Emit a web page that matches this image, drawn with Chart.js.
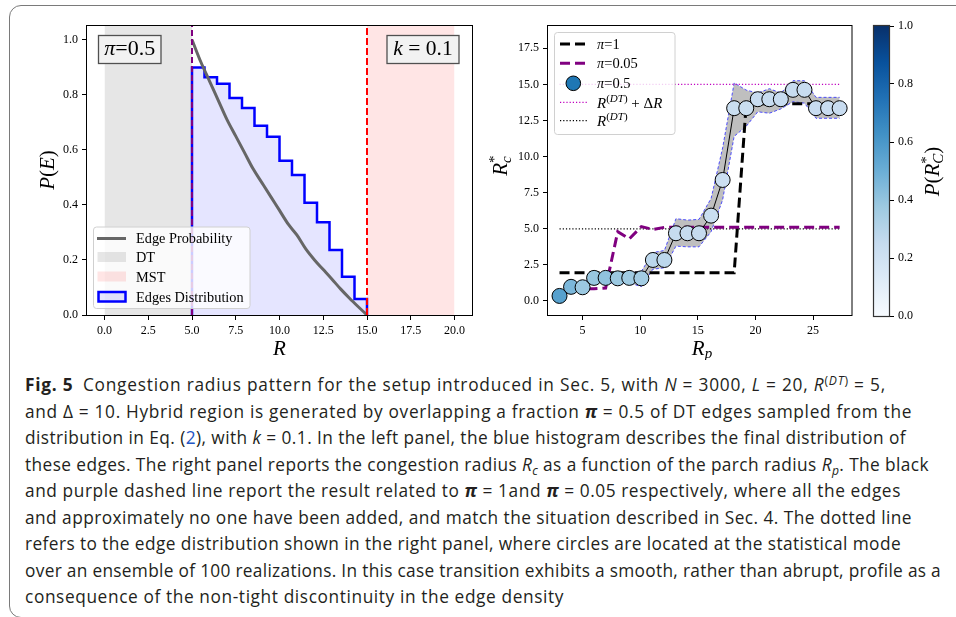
<!DOCTYPE html>
<html><head><meta charset="utf-8">
<script src="https://cdn.jsdelivr.net/npm/chart.js@4.4.1/dist/chart.umd.min.js"></script>
<style>
html,body{margin:0;padding:0;background:#fff;width:956px;height:617px;overflow:hidden;position:relative;}
#frame{position:absolute;left:9px;top:5px;width:1000px;height:613px;box-sizing:border-box;border:1px solid #7a7a7a;border-radius:12px 0 0 12px;}
canvas{position:absolute;top:0;}
#cL{left:0;}
#cR{left:478px;}
#cB{left:860px;}
#cap{position:absolute;left:25px;top:372px;font-family:"Open Sans",Lato,sans-serif;font-size:17.3px;line-height:26.55px;color:#231f20;white-space:nowrap;}
#cap > div > span.ln{display:inline-block;}
#cap i{font-style:italic;}
#cap .pi{font-weight:bold;font-style:italic;}
#cap .sup{font-size:70%;vertical-align:0.5em;line-height:0;}
#cap .sub{font-size:70%;vertical-align:-0.3em;line-height:0;}
#cap .l{color:#2255c4;}
</style></head>
<body>
<div id="frame"></div>
<canvas id="cL" width="480" height="360"></canvas>
<canvas id="cR" width="382" height="360"></canvas>
<canvas id="cB" width="96" height="360"></canvas>
<div id="cap">
<div><span class="ln"><b>Fig. 5</b>&ensp;Congestion radius pattern for the setup introduced in Sec. 5, with <i>N</i> = 3000, <i>L</i> = 20, <i>R</i><span class="sup">(<i>DT</i>)</span> = 5,</span></div>
<div><span class="ln">and Δ = 10. Hybrid region is generated by overlapping a fraction <span class="pi">π</span> = 0.5 of DT edges sampled from the</span></div>
<div><span class="ln">distribution in Eq. (<span class="l">2</span>), with <i>k</i> = 0.1. In the left panel, the blue histogram describes the final distribution of</span></div>
<div><span class="ln">these edges. The right panel reports the congestion radius <i>R</i><span class="sub"><i>c</i></span> as a function of the parch radius <i>R</i><span class="sub"><i>p</i></span>. The black</span></div>
<div><span class="ln">and purple dashed line report the result related to <span class="pi">π</span> = 1and <span class="pi">π</span> = 0.05 respectively, where all the edges</span></div>
<div><span class="ln">and approximately no one have been added, and match the situation described in Sec. 4. The dotted line</span></div>
<div><span class="ln">refers to the edge distribution shown in the right panel, where circles are located at the statistical mode</span></div>
<div><span class="ln">over an ensemble of 100 realizations. In this case transition exhibits a smooth, rather than abrupt, profile as a</span></div>
<div><span class="ln">consequence of the non-tight discontinuity in the edge density</span></div>
</div>
<script>
// ---------------- DATA ----------------
// Left panel
const leftXTicks = [0, 2.5, 5, 7.5, 10, 12.5, 15, 17.5, 20];
const leftYTicks = [0, 0.2, 0.4, 0.6, 0.8, 1.0];
const histEdges = [5.0, 5.714, 6.429, 7.143, 7.857, 8.571, 9.286, 10.0, 10.714, 11.429, 12.143, 12.857, 13.571, 14.286, 15.0];
const histHeights = [0.899, 0.864, 0.840, 0.788, 0.752, 0.688, 0.648, 0.560, 0.509, 0.408, 0.337, 0.236, 0.139, 0.058];
const probR = [5, 5.5, 6, 6.5, 7, 7.5, 8, 8.5, 9, 9.5, 10, 10.5, 11, 11.5, 12, 12.5, 13, 13.5, 14, 14.5, 15];
const probP = [1.0, 0.92, 0.85, 0.78, 0.71, 0.65, 0.59, 0.53, 0.48, 0.43, 0.38, 0.33, 0.29, 0.24, 0.20, 0.165, 0.13, 0.094, 0.061, 0.03, 0.0];
const dtSpan = [0, 5];
const mstSpan = [15, 20];
// Right panel
const rightXTicks = [5, 10, 15, 20, 25];
const rightYTicks = [0, 2.5, 5, 7.5, 10, 12.5, 15, 17.5];
const rpX = [3.0, 4.0, 5.0, 6.0, 7.0, 8.05, 9.05, 10.1, 11.1, 12.1, 13.1, 14.1, 15.1, 16.15, 17.15, 18.15, 19.2, 20.2, 21.2, 22.2, 23.25, 24.25, 25.25, 26.3, 27.3];
const modeY = [0.35, 0.98, 0.95, 1.6, 1.6, 1.57, 1.6, 1.57, 2.84, 2.84, 4.69, 4.69, 4.69, 5.91, 8.38, 13.35, 13.35, 13.97, 13.97, 13.97, 14.62, 14.62, 13.35, 13.35, 13.35];
const modeP = [0.56, 0.46, 0.38, 0.39, 0.41, 0.38, 0.37, 0.36, 0.28, 0.28, 0.25, 0.25, 0.25, 0.23, 0.22, 0.23, 0.23, 0.24, 0.24, 0.24, 0.24, 0.24, 0.24, 0.24, 0.24];
const bandUpper = [0.5, 1.1, 1.1, 1.95, 1.95, 1.95, 1.95, 2.05, 3.35, 3.5, 5.7, 5.6, 5.65, 7.1, 10.6, 15.1, 14.6, 14.4, 14.7, 14.4, 15.25, 15.25, 14.1, 14.1, 14.1];
const bandLower = [0.3, 0.85, 0.85, 1.25, 1.25, 1.25, 1.25, 1.0, 2.2, 2.3, 3.8, 3.75, 3.75, 4.8, 7.0, 11.4, 12.1, 13.1, 13.0, 13.3, 13.8, 13.7, 12.65, 12.65, 12.65];
const pi1Y = [1.95, 1.95, 1.95, 1.95, 1.95, 1.95, 1.95, 1.95, 1.95, 1.95, 1.95, 1.95, 1.95, 1.95, 1.95, 1.95, 13.65, 13.65, 13.65, 13.65, 13.65, 13.65, 13.65, 13.65, 13.65];
const pi005Y = [0.35, 0.85, 0.85, 0.85, 0.9, 4.8, 4.3, 5.15, 4.95, 5.1, 5.1, 5.1, 5.1, 5.1, 5.1, 5.1, 5.1, 5.1, 5.1, 5.1, 5.1, 5.1, 5.1, 5.1, 5.1];
const refX = [3.0, 27.3];
const rDT = [5, 5];
const rDTplus = [15, 15];
// Colorbar
const cbarTicks = [0, 0.2, 0.4, 0.6, 0.8, 1.0];

// ---------------- CAPTION FIT (layout only) ----------------
const capLineEnds = [886, 912, 906, 929, 901, 912, 901, 941, 564];
document.querySelectorAll('#cap span.ln').forEach((s, i) => {
  const w = s.getBoundingClientRect().width;
  const n = s.textContent.length;
  const target = capLineEnds[i] - 25;
  s.style.letterSpacing = ((target - w) / n).toFixed(3) + 'px';
});

// ---------------- HELPERS ----------------
const SERIF = '"Liberation Serif", "DejaVu Serif", serif';
const BLUES = [[247,251,255],[222,235,247],[198,219,239],[158,202,225],[107,174,214],[66,146,198],[33,113,181],[8,81,156],[8,48,107]];
function blues(t){ const f = Math.max(0, Math.min(1, t)) * 8; const i = Math.min(7, Math.floor(f)); const r = f - i;
  const a = BLUES[i], b = BLUES[i+1]; return 'rgb(' + a.map((c,k)=>Math.round(c + (b[k]-c)*r)).join(',') + ')'; }
const xy = (xs, ys) => xs.map((x,i)=>({x:x, y:ys[i]}));
function fnt(size, italic){ return (italic ? 'italic ' : '') + size + 'px ' + SERIF; }
// parts: [text, italic, size, dy, noAdvance]
function drawParts(ctx, parts, x, y, align){
  let w = 0;
  parts.forEach(p => { ctx.font = fnt(p[2], p[1]); p.w = ctx.measureText(p[0]).width; if (!p[4]) w += p.w; });
  let cx = align === 'center' ? x - w/2 : (align === 'right' ? x - w : x);
  ctx.textAlign = 'left'; ctx.textBaseline = 'alphabetic';
  parts.forEach(p => { ctx.font = fnt(p[2], p[1]); ctx.fillText(p[0], cx, y + (p[3] || 0)); if (!p[4]) cx += p.w; });
}
function drawRot(ctx, parts, x, y, base){
  ctx.save(); ctx.translate(x, y); ctx.rotate(-Math.PI/2); drawParts(ctx, parts, 0, base, 'center'); ctx.restore();
}
function rrect(ctx, x, y, w, h, r){
  ctx.beginPath(); ctx.moveTo(x+r, y); ctx.lineTo(x+w-r, y); ctx.quadraticCurveTo(x+w, y, x+w, y+r);
  ctx.lineTo(x+w, y+h-r); ctx.quadraticCurveTo(x+w, y+h, x+w-r, y+h); ctx.lineTo(x+r, y+h);
  ctx.quadraticCurveTo(x, y+h, x, y+h-r); ctx.lineTo(x, y+r); ctx.quadraticCurveTo(x, y, x+r, y); ctx.closePath();
}
function axis(pos, min, max, ticks, fmt, size){
  return {
    type: 'linear', position: pos, min: min, max: max,
    afterBuildTicks: s => { s.ticks = ticks.map(v => ({value: v})); },
    afterFit: s => { if (pos === 'bottom') s.height = size; else s.width = size; },
    grid: {drawOnChartArea: false, drawTicks: true, tickLength: 5, color: '#000', lineWidth: 1},
    border: {display: false},
    ticks: {color: '#000', font: {family: SERIF, size: 12}, padding: 4, maxRotation: 0, autoSkip: false, callback: v => fmt(v)}
  };
}
function frame(ctx, a){ ctx.save(); ctx.strokeStyle = '#000'; ctx.lineWidth = 1; ctx.strokeRect(a.left - 0.5, a.top - 0.5, a.right - a.left + 1, a.bottom - a.top + 1); ctx.restore(); }
Chart.defaults.animation = false;
Chart.defaults.events = [];
Chart.defaults.plugins.legend.display = false;
Chart.defaults.plugins.tooltip.enabled = false;
Chart.defaults.elements.point.radius = 0;
Chart.defaults.elements.line.tension = 0;

// ---------------- LEFT PANEL ----------------
const histPts = [{x: histEdges[0], y: 0}];
histHeights.forEach((h, i) => { histPts.push({x: histEdges[i], y: h}, {x: histEdges[i+1], y: h}); });
histPts.push({x: histEdges[histEdges.length-1], y: 0});

const leftDeco = {
  id: 'leftDeco',
  afterDraw(chart){
    const ctx = chart.ctx, a = chart.chartArea;
    frame(ctx, a);
    ctx.save();
    // text boxes
    ctx.fillStyle = '#f2f2f2'; ctx.strokeStyle = '#505050'; ctx.lineWidth = 1.3;
    ctx.fillRect(98.5, 35.5, 62.5, 28); ctx.strokeRect(98.5, 35.5, 62.5, 28);
    ctx.fillRect(387, 35.5, 72, 28); ctx.strokeRect(387, 35.5, 72, 28);
    ctx.fillStyle = '#000';
    drawParts(ctx, [['π', true, 22], ['=0.5', false, 22]], 129.7, 54.5, 'center');
    drawParts(ctx, [['k', true, 21.5], [' = 0.1', false, 21.5]], 423, 54.5, 'center');
    // legend
    rrect(ctx, 93.5, 227, 156.5, 81.5, 3);
    ctx.fillStyle = 'rgba(255,255,255,0.8)'; ctx.fill();
    ctx.strokeStyle = '#d0d0d0'; ctx.lineWidth = 1; ctx.stroke();
    ctx.strokeStyle = '#666'; ctx.lineWidth = 3;
    ctx.beginPath(); ctx.moveTo(97, 238.5); ctx.lineTo(126, 238.5); ctx.stroke();
    ctx.fillStyle = 'rgba(128,128,128,0.2)'; ctx.fillRect(97.5, 252, 28.5, 10);
    ctx.fillStyle = 'rgba(255,0,0,0.1)'; ctx.fillRect(97.5, 271.5, 28.5, 10);
    ctx.fillStyle = 'rgba(0,0,255,0.1)'; ctx.fillRect(98.5, 292, 27, 9.5);
    ctx.strokeStyle = '#0000ff'; ctx.lineWidth = 2.5; ctx.strokeRect(98.5, 292, 27, 9.5);
    ctx.fillStyle = '#000';
    const L = [['Edge Probability', 238.5], ['DT', 257.5], ['MST', 276.7], ['Edges Distribution', 296.7]];
    L.forEach(e => drawParts(ctx, [[e[0], false, 14.3]], 136, e[1] + 4.8, 'left'));
    // axis titles
    drawRot(ctx, [['P', true, 21], ['(', false, 21], ['E', true, 21], [')', false, 21]], 46.5, 170, 7);
    drawParts(ctx, [['R', true, 21]], 279.5, 355, 'center');
    ctx.restore();
  }
};

new Chart(document.getElementById('cL'), {
  type: 'line',
  data: {datasets: [
    {data: xy([5, 5], [0, 1.05]), borderColor: '#800080', borderWidth: 2, borderDash: [6, 3], order: 0},
    {data: xy([15, 15], [0, 1.05]), borderColor: '#ff0000', borderWidth: 2, borderDash: [7, 3], order: 0},
    {data: xy(probR, probP), borderColor: '#666666', borderWidth: 3, cubicInterpolationMode: 'monotone', order: 1},
    {data: histPts, borderColor: '#0000ff', borderWidth: 2.5, borderJoinStyle: 'miter', fill: 'origin', backgroundColor: 'rgba(0,0,255,0.1)', order: 2},
    {data: xy(dtSpan, [1.05, 1.05]), borderWidth: 0, borderColor: 'rgba(0,0,0,0)', fill: 'origin', backgroundColor: 'rgba(128,128,128,0.2)', order: 3},
    {data: xy(mstSpan, [1.05, 1.05]), borderWidth: 0, borderColor: 'rgba(0,0,0,0)', fill: 'origin', backgroundColor: 'rgba(255,0,0,0.1)', order: 3}
  ]},
  options: {
    responsive: false,
    layout: {padding: {top: 26, right: 8, left: 0, bottom: 0}},
    scales: {
      x: axis('bottom', -1, 21, leftXTicks, v => v.toFixed(1), 45),
      y: axis('left', 0, 1.05, leftYTicks, v => v.toFixed(1), 87)
    }
  },
  plugins: [leftDeco]
});

// ---------------- RIGHT PANEL ----------------
const rightDeco = {
  id: 'rightDeco',
  afterDraw(chart){
    const ctx = chart.ctx, a = chart.chartArea;
    frame(ctx, a);
    ctx.save();
    const ox = -478;
    rrect(ctx, 554.5 + ox, 32.5, 120.5, 102, 3);
    ctx.fillStyle = 'rgba(255,255,255,0.8)'; ctx.fill();
    ctx.strokeStyle = '#d0d0d0'; ctx.lineWidth = 1; ctx.stroke();
    const hx0 = 560 + ox, hx1 = 587 + ox, tx = 597 + ox;
    ctx.lineWidth = 3; ctx.setLineDash([10, 5]);
    ctx.strokeStyle = '#000'; ctx.beginPath(); ctx.moveTo(hx0, 44); ctx.lineTo(hx1, 44); ctx.stroke();
    ctx.strokeStyle = '#800080'; ctx.beginPath(); ctx.moveTo(hx0, 63.3); ctx.lineTo(hx1, 63.3); ctx.stroke();
    ctx.setLineDash([1.2, 2]); ctx.lineWidth = 1.2;
    ctx.strokeStyle = '#bf00bf'; ctx.beginPath(); ctx.moveTo(hx0, 102.3); ctx.lineTo(hx1, 102.3); ctx.stroke();
    ctx.strokeStyle = '#000'; ctx.beginPath(); ctx.moveTo(hx0, 120.7); ctx.lineTo(hx1, 120.7); ctx.stroke();
    ctx.setLineDash([]);
    ctx.beginPath(); ctx.arc(573.3 + ox, 83.3, 7.3, 0, Math.PI*2);
    ctx.fillStyle = '#1f77b4'; ctx.fill(); ctx.strokeStyle = '#000'; ctx.lineWidth = 1; ctx.stroke();
    ctx.fillStyle = '#000';
    drawParts(ctx, [['π', true, 14.5], ['=1', false, 14.5]], tx, 49, 'left');
    drawParts(ctx, [['π', true, 14.5], ['=0.05', false, 14.5]], tx, 68.3, 'left');
    drawParts(ctx, [['π', true, 14.5], ['=0.5', false, 14.5]], tx, 88.3, 'left');
    drawParts(ctx, [['R', true, 15], ['(', false, 11, -6], ['DT', true, 11, -6], [')', false, 11, -6], [' + Δ', false, 15], ['R', true, 15]], tx, 107.5, 'left');
    drawParts(ctx, [['R', true, 15], ['(', false, 11, -6], ['DT', true, 11, -6], [')', false, 11, -6]], tx, 126, 'left');
    // axis titles
    drawRot(ctx, [['R', true, 21], ['*', false, 15, -8, true], ['c', true, 15, 4]], 500 + ox, 166, 7);
    drawParts(ctx, [['R', true, 21], ['p', true, 15, 3]], 702 + ox, 355, 'center');
    ctx.restore();
  }
};

new Chart(document.getElementById('cR'), {
  type: 'line',
  data: {datasets: [
    {data: xy(rpX, modeY), borderColor: '#000', borderWidth: 1, pointRadius: 7.5, pointBackgroundColor: modeP.map(blues), pointBorderColor: '#000', pointBorderWidth: 1, order: 0},
    {data: xy(rpX, pi005Y), borderColor: '#800080', borderWidth: 3, borderDash: [10, 5], order: 1},
    {data: xy(rpX, pi1Y), borderColor: '#000', borderWidth: 3, borderDash: [10, 5], order: 2},
    {data: xy(refX, rDTplus), borderColor: '#bf00bf', borderWidth: 1.2, borderDash: [1.2, 2], order: 3},
    {data: xy(refX, rDT), borderColor: '#000', borderWidth: 1.2, borderDash: [1.2, 2], order: 3},
    {data: xy(rpX, bandUpper), borderColor: 'rgba(50,50,255,0.85)', borderWidth: 1, borderDash: [3, 2], fill: '+1', backgroundColor: 'rgba(128,128,128,0.5)', order: 5},
    {data: xy(rpX, bandLower), borderColor: 'rgba(50,50,255,0.85)', borderWidth: 1, borderDash: [3, 2], order: 4}
  ]},
  options: {
    responsive: false,
    layout: {padding: {top: 26, right: 4, left: 0, bottom: 0}},
    scales: {
      x: axis('bottom', 2.0, 28.33, rightXTicks, v => String(v), 45),
      y: axis('left', -0.97, 19.04, rightYTicks, v => v.toFixed(1), 70)
    }
  },
  plugins: [rightDeco]
});

// ---------------- COLORBAR ----------------
const cbarDeco = {
  id: 'cbarDeco',
  beforeDatasetsDraw(chart){
    const ctx = chart.ctx, a = chart.chartArea, y = chart.scales.y;
    const g = ctx.createLinearGradient(0, y.getPixelForValue(0), 0, y.getPixelForValue(1));
    BLUES.forEach((c, i) => g.addColorStop(i / 8, 'rgb(' + c.join(',') + ')'));
    ctx.save(); ctx.fillStyle = g; ctx.fillRect(a.left, a.top, a.right - a.left, a.bottom - a.top); ctx.restore();
  },
  afterDraw(chart){
    const ctx = chart.ctx, a = chart.chartArea;
    ctx.save(); ctx.strokeStyle = '#333'; ctx.lineWidth = 1.2;
    ctx.strokeRect(a.left - 0.5, a.top - 0.5, a.right - a.left + 1, a.bottom - a.top + 1);
    ctx.fillStyle = '#000';
    drawRot(ctx, [['P', true, 21], ['(', false, 21], ['R', true, 21], ['*', false, 15, -8, true], ['C', true, 15, 4], [')', false, 21]], 933 - 860, 171.5, 6);
    ctx.restore();
  }
};
new Chart(document.getElementById('cB'), {
  type: 'line',
  data: {datasets: [{data: []}]},
  options: {
    responsive: false,
    layout: {padding: {top: 26, right: 0, left: 14, bottom: 44}},
    scales: {
      x: {type: 'linear', display: false, min: 0, max: 1},
      y: axis('right', 0, 1, cbarTicks, v => v.toFixed(1), 67)
    }
  },
  plugins: [cbarDeco]
});
</script>
</body></html>
